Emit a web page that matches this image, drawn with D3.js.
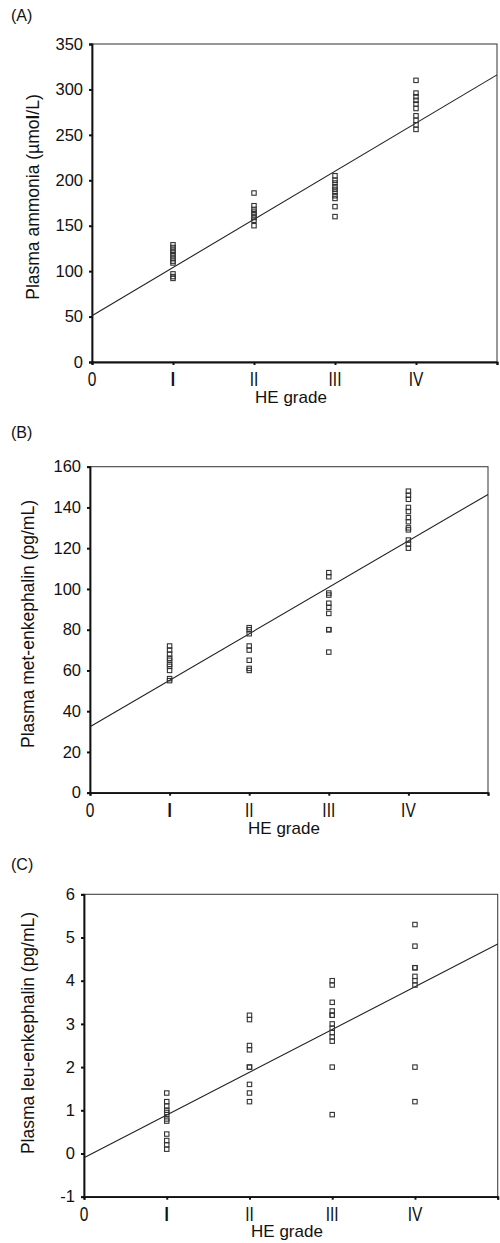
<!DOCTYPE html>
<html>
<head>
<meta charset="utf-8">
<script src="https://cdn.jsdelivr.net/npm/d3@7"></script>
<style>
  html, body { margin: 0; padding: 0; background: #fff; }
  svg { display: block; }
  text { font-family: "Liberation Sans", Arial, Helvetica, sans-serif; fill: #111; }
</style>
</head>
<body>
<svg id="chart" width="500" height="1243"></svg>
<script>
// ---------- DATA ----------
const gradeValues = [1, 2, 3, 4];
const xTickValues = [0, 1, 2, 3, 4, 5];
const xTickLabels = ["0", "I", "II", "III", "IV", ""];
const xAxisTitle = "HE grade";

// (A) Plasma ammonia (µmol/L)
const ammoniaTicks = [0, 50, 100, 150, 200, 250, 300, 350];
const ammoniaGradeI = [129, 126, 123, 120, 117, 114, 111, 109, 97, 94, 92];
const ammoniaGradeII = [186, 172, 168, 165, 162, 159, 156, 150];
const ammoniaGradeIII = [205, 200, 197, 193, 190, 187, 183, 180, 171, 160];
const ammoniaGradeIV = [310, 296, 292, 288, 284, 279, 271, 266, 261, 256];
const ammoniaFit = [51, 53]; // [intercept, slope]

// (B) Plasma met-enkephalin (pg/mL)
const metTicks = [0, 20, 40, 60, 80, 100, 120, 140, 160];
const metGradeI = [72, 70, 68, 66, 65, 63, 62, 60, 56, 55];
const metGradeII = [81, 80, 78, 72, 70, 65, 61, 60];
const metGradeIII = [108, 106, 98, 97, 93, 91, 88, 80, 80, 69];
const metGradeIV = [148, 146, 144, 140, 138, 135, 133, 130, 129, 124, 122, 120];
const metFit = [32.4, 22.8];

// (C) Plasma leu-enkephalin (pg/mL)
const leuTicks = [-1, 0, 1, 2, 3, 4, 5, 6];
const leuGradeI = [1.4, 1.2, 1.1, 1.0, 0.95, 0.9, 0.8, 0.75, 0.45, 0.3, 0.2, 0.1];
const leuGradeII = [3.2, 3.1, 2.5, 2.4, 2.0, 2.0, 1.6, 1.4, 1.2];
const leuGradeIII = [4.0, 3.9, 3.5, 3.3, 3.2, 3.2, 3.0, 2.9, 2.8, 2.7, 2.6, 2.0, 0.9];
const leuGradeIV = [5.3, 4.8, 4.3, 4.3, 4.1, 4.0, 3.9, 2.0, 1.2];
const leuFit = [-0.1, 0.99];

// ---------- LAYOUT ----------
const panels = [
  { tag: "(A)", tagY: 21, box: { l: 92, r: 497, t: 44, b: 362 }, domain: [0, 350], ticks: ammoniaTicks,
    groups: [ammoniaGradeI, ammoniaGradeII, ammoniaGradeIII, ammoniaGradeIV], fit: ammoniaFit,
    yTitle: ["Plasma ammonia (µmo", "l", "/L)"], yTitleX: 33, yTitleY: 197, xTitleX: 291, xTitleY: 403 },
  { tag: "(B)", tagY: 438, box: { l: 90, r: 488, t: 466.7, b: 792.7 }, domain: [0, 160], ticks: metTicks,
    groups: [metGradeI, metGradeII, metGradeIII, metGradeIV], fit: metFit,
    yTitle: ["Plasma met-enkephalin (pg/mL)"], yTitleX: 28, yTitleY: 624, xTitleX: 284, xTitleY: 834 },
  { tag: "(C)", tagY: 870, box: { l: 84, r: 497.7, t: 894.3, b: 1196.7 }, domain: [-1, 6], ticks: leuTicks,
    groups: [leuGradeI, leuGradeII, leuGradeIII, leuGradeIV], fit: leuFit,
    yTitle: ["Plasma leu-enkephalin (pg/mL)"], yTitleX: 28, yTitleY: 1033, xTitleX: 287, xTitleY: 1237 }
];

const svg = d3.select("#chart");

panels.forEach(p => {
  const g = svg.append("g");
  const x = d3.scaleLinear().domain([0, 5]).range([p.box.l, p.box.r]);
  const y = d3.scaleLinear().domain(p.domain).range([p.box.b, p.box.t]);

  // panel tag
  g.append("text").attr("x", 11).attr("y", p.tagY).attr("font-size", 16).text(p.tag);

  // frame (top/right thin)
  g.append("rect")
    .attr("x", p.box.l).attr("y", p.box.t)
    .attr("width", p.box.r - p.box.l).attr("height", p.box.b - p.box.t)
    .attr("fill", "none").attr("stroke", "#444").attr("stroke-width", 1.1);

  // y axis
  const yAxis = d3.axisLeft(y).tickValues(p.ticks).tickSize(3).tickPadding(6)
    .tickFormat(d => String(d)); // plain hyphen minus as in reference
  const ya = g.append("g").attr("transform", `translate(${p.box.l},0)`).call(yAxis);
  ya.select(".domain").attr("stroke", "#111").attr("stroke-width", 1.8);
  ya.selectAll(".tick line").attr("stroke", "#111").attr("stroke-width", 2);
  ya.selectAll(".tick text").attr("font-size", 16.5).attr("fill", "#111")
    .attr("font-family", "Liberation Sans, Arial, sans-serif");

  // x axis
  const xAxis = d3.axisBottom(x).tickValues(xTickValues).tickSize(3).tickFormat(() => "");
  const xa = g.append("g").attr("transform", `translate(0,${p.box.b})`).call(xAxis);
  xa.select(".domain").attr("stroke", "#111").attr("stroke-width", 1.8);
  xa.selectAll(".tick line").attr("stroke", "#111").attr("stroke-width", 2);

  // x tick labels (slightly tall glyphs as in reference)
  g.selectAll(".xlab").data(xTickValues).enter().append("text")
    .attr("class", "xlab")
    .attr("transform", d => `translate(${x(d)},${p.box.b + 24}) scale(1,1.25)`)
    .attr("text-anchor", "middle").attr("font-size", 15.5)
    .attr("font-weight", (d, i) => i === 1 ? "bold" : "normal")
    .text((d, i) => xTickLabels[i]);

  // titles
  const yt = g.append("text")
    .attr("transform", `translate(${p.yTitleX},${p.yTitleY}) rotate(-90)`)
    .attr("text-anchor", "middle").attr("dy", "0.35em").attr("font-size", 17.5);
  p.yTitle.forEach((s, i) => {
    yt.append("tspan").attr("font-weight", i === 1 ? "bold" : "normal").text(s);
  });
  g.append("text").attr("x", p.xTitleX).attr("y", p.xTitleY)
    .attr("text-anchor", "middle").attr("font-size", 17).text(xAxisTitle);

  // regression line
  const line = d3.line().x(d => x(d)).y(d => y(p.fit[0] + p.fit[1] * d));
  g.append("path").datum([0, 5]).attr("d", line)
    .attr("fill", "none").attr("stroke", "#222").attr("stroke-width", 1.1);

  // points
  const pts = [];
  p.groups.forEach((vals, gi) => vals.forEach(v => pts.push({ gx: gradeValues[gi], v })));
  const s = 4.4;
  g.selectAll(".pt").data(pts).enter().append("rect")
    .attr("class", "pt")
    .attr("x", d => x(d.gx) - s / 2).attr("y", d => y(d.v) - s / 2)
    .attr("width", s).attr("height", s)
    .attr("fill", "none").attr("stroke", "#333").attr("stroke-width", 1.1);
});
</script>
</body>
</html>
